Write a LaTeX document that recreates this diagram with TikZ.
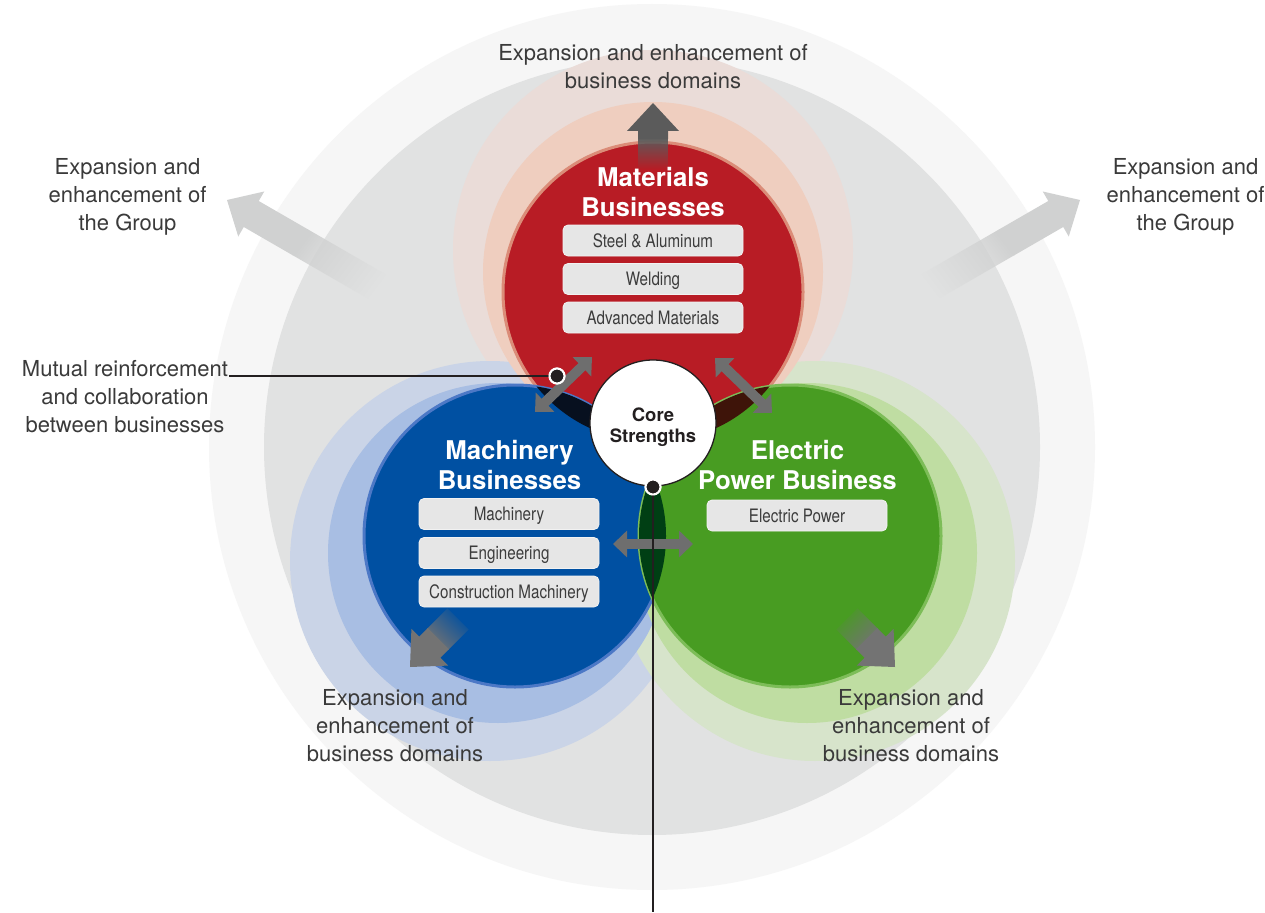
\documentclass[tikz,border=0pt]{standalone}
\usepackage{fontspec}
\setmainfont{TeX Gyre Heros}
\newfontfamily\condfont[FakeStretch=0.82]{TeX Gyre Heros}
\usetikzlibrary{arrows.meta,fadings}

\definecolor{ringouter}{HTML}{F6F6F6}
\definecolor{ringinner}{HTML}{E1E2E2}
\definecolor{matred}{HTML}{B81C25}
\definecolor{matedge}{HTML}{DB8C78}
\definecolor{mathaloA}{HTML}{EFCEBF}
\definecolor{mathaloB}{HTML}{EADCD8}
\definecolor{macblue}{HTML}{0050A2}
\definecolor{macedge}{HTML}{4C78C6}
\definecolor{machaloA}{HTML}{A8BEE3}
\definecolor{machaloB}{HTML}{CAD4E7}
\definecolor{elegreen}{HTML}{489C22}
\definecolor{eleedge}{HTML}{7DBD58}
\definecolor{elehaloA}{HTML}{BFDDA2}
\definecolor{elehaloB}{HTML}{D7E4CB}
\definecolor{ovRB}{HTML}{07101F}
\definecolor{ovRG}{HTML}{3E1409}
\definecolor{ovBG}{HTML}{003F14}
\definecolor{labeltext}{HTML}{3A3A3A}
\definecolor{boxfill}{HTML}{E6E6E6}
\definecolor{boxedge}{HTML}{F2F2F2}
\definecolor{boxtext}{HTML}{3C3C3C}
\definecolor{linkgray}{HTML}{6E6E6E}
\definecolor{growdark}{HTML}{5B5B5B}
\definecolor{growmid}{HTML}{737373}
\definecolor{growlight}{HTML}{D0D1D1}
\definecolor{inkdark}{HTML}{231F20}

% outward growth arrow: tip, direction, solid length, total length, colour, fading angle
\newcommand\growarrow[6]{%
  \begin{scope}[shift={(#1)},rotate=#2]
    \fill[#5] (0,0) -- (-28,26) -- (-28,15) -- (-#3,15) -- (-#3,-15)
      -- (-28,-15) -- (-28,-26) -- cycle;
    \fill[#5,path fading=south,fading angle=#6] (-#3+1,15) rectangle (-#4,-15);
  \end{scope}}

\begin{document}
\begin{tikzpicture}[x=1pt,y=-1pt,
  lbl/.style={font=\fontsize{22}{28}\selectfont, text=labeltext, align=center, inner sep=0pt},
  ttl/.style={font=\fontsize{25.8}{30}\selectfont\bfseries, text=white, align=center, inner sep=0pt},
  subbox/.style={fill=boxfill, draw=boxedge, line width=0.8pt, rounded corners=5pt,
     minimum width=180pt, minimum height=31pt, inner sep=0pt, text=boxtext,
     font=\condfont\fontsize{18.5}{20}\selectfont, text height=13.5pt, text depth=0.5pt},
  link/.style={draw=linkgray, line width=10pt,
     arrows={Triangle[width=26pt,length=14pt]-Triangle[width=26pt,length=14pt]}},
  pin/.style={circle, fill=inkdark, draw=white, line width=2pt, minimum size=15pt, inner sep=0pt},
  leader/.style={draw=inkdark, line width=1.1pt}]

\useasboundingbox (0,0) rectangle (1265,912);
\fill[white] (0,0) rectangle (1265,912);

% group rings
\coordinate (O) at (652,447);
\fill[ringouter] (O) circle (443pt);
\fill[ringinner] (O) circle (388pt);

% business circle centres
\coordinate (R) at (653,292);
\coordinate (B) at (515,536);
\coordinate (G) at (790,536);

% expansion halos
\fill[mathaloB] (653,250) circle (200pt);
\fill[machaloB] (490,561) circle (200pt);
\fill[elehaloB] (815,561) circle (200pt);
\fill[mathaloA] (653,272) circle (170pt);
\fill[machaloA] (498,553) circle (170pt);
\fill[elehaloA] (807,553) circle (170pt);

% group expansion arrows
\coordinate (tipUL) at (227,200);
\coordinate (tipUR) at (1080,200);
\growarrow{tipUL}{150}{85}{175}{growlight}{60}
\growarrow{tipUR}{30}{85}{175}{growlight}{-60}

% business circles
\filldraw[fill=matred, draw=matedge, line width=3pt] (R) circle (150pt);
\filldraw[fill=macblue, draw=macedge, line width=3pt] (B) circle (151pt);
\filldraw[fill=elegreen, draw=eleedge, line width=3pt] (G) circle (151pt);

% overlaps
\begin{scope}
  \clip (R) circle (150pt);
  \fill[ovRB] (B) circle (151pt);
  \fill[ovRG] (G) circle (151pt);
\end{scope}
\begin{scope}
  \clip (B) circle (151pt);
  \fill[ovBG] (G) circle (151pt);
\end{scope}

% business domain arrows
\coordinate (tipT) at (653,103);
\coordinate (tipBL) at (410,667);
\coordinate (tipBR) at (895,667);
\growarrow{tipT}{90}{36}{66}{growdark}{0}
\growarrow{tipBL}{225}{40}{68}{growmid}{135}
\growarrow{tipBR}{-45}{40}{68}{growmid}{-135}

% mutual links
\coordinate (lkL1) at (535,412); \coordinate (lkL2) at (592,357);
\coordinate (lkR1) at (715,358); \coordinate (lkR2) at (772,413);
\coordinate (lkH1) at (613,544); \coordinate (lkH2) at (693,544);
\draw[link] (lkL1) -- (lkL2);
\draw[link] (lkR1) -- (lkR2);
\draw[link] (lkH1) -- (lkH2);

% core
\node[circle, fill=white, draw=inkdark, line width=1.3pt, minimum size=126pt, inner sep=0pt] (core) at (653,423) {};
\node[font=\fontsize{18.5}{21}\selectfont\bfseries, text=inkdark, align=center, inner sep=0pt, anchor=base]
  (coreT) at (653,442) {Core\\Strengths};

% labels (anchored at the baseline of their last line)
\node[lbl, anchor=base] (topLbl) at (653,89) {Expansion and enhancement of\\business domains};
\node[lbl, anchor=base] (grpL) at (127.5,230) {Expansion and\\enhancement of\\the Group};
\node[lbl, anchor=base] (grpR) at (1185.5,230) {Expansion and\\enhancement of\\the Group};
\node[lbl, anchor=base] (mutual) at (125,432) {Mutual reinforcement\\and collaboration\\between businesses};
\node[lbl, anchor=base] (domBL) at (395,761) {Expansion and\\enhancement of\\business domains};
\node[lbl, anchor=base] (domBR) at (911,761) {Expansion and\\enhancement of\\business domains};

% leaders
\coordinate (mutualEnd) at (229,376);
\node[pin] (pinL) at (557,376) {};
\node[pin] (pinB) at (653,487) {};
\coordinate (foot) at (653,912);
\draw[leader] (pinL.center) -- (mutualEnd);
\draw[leader] (pinB.center) -- (foot);
\node[pin] at (pinL.center) {};
\node[pin] at (pinB.center) {};

% titles
\node[ttl, anchor=base] (matT) at (653,216) {Materials\\Businesses};
\node[ttl, anchor=base] (macT) at (509.5,489) {Machinery\\Businesses};
\node[ttl, anchor=base] (eleT) at (797.5,489) {Electric\\Power Business};

% business units
\node[subbox] (m1) at (653,240.5) {Steel \& Aluminum};
\node[subbox] (m2) at (653,279) {Welding};
\node[subbox] (m3) at (653,317.5) {Advanced Materials};
\node[subbox] (c1) at (509,514) {Machinery};
\node[subbox] (c2) at (509,553) {Engineering};
\node[subbox] (c3) at (509,591.5) {Construction Machinery};
\node[subbox] (e1) at (797,515.5) {Electric Power};

\end{tikzpicture}
\end{document}
